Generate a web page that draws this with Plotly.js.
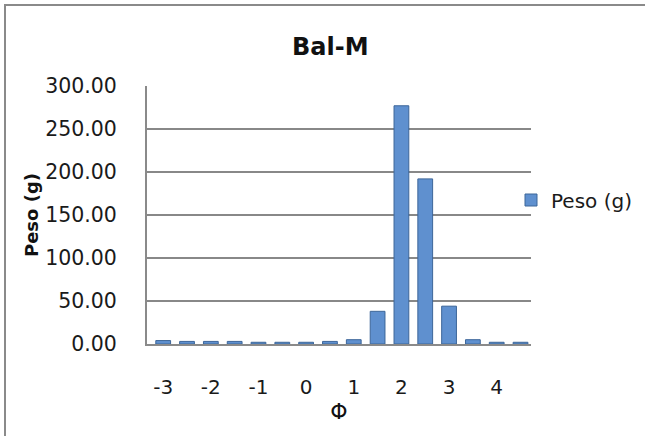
<!DOCTYPE html>
<html>
<head>
<meta charset="utf-8">
<script src="https://cdn.plot.ly/plotly-3.0.1.min.js"></script>
<style>html,body{margin:0;padding:0;background:#fff;}#chart{width:645px;height:436px;}</style>
</head>
<body>
<div id="chart"></div>
<script>
// Data
const phi = [-3, -2.5, -2, -1.5, -1, -0.5, 0, 0.5, 1, 1.5, 2, 2.5, 3, 3.5, 4, 4.5];
const peso = [4, 3, 3, 3, 2, 2, 2, 3, 5, 38, 277, 192, 44, 5, 2, 2];
const xTickVals = [-3, -2, -1, 0, 1, 2, 3, 4];
const xTickText = ['-3', '-2', '-1', '0', '1', '2', '3', '4'];
const yTickVals = [0, 50, 100, 150, 200, 250, 300];
const yTickText = ['0.00', '50.00', '100.00', '150.00', '200.00', '250.00', '300.00'];
const seriesName = 'Peso (g)';

const F = 'DejaVu Sans, sans-serif';
const trace = {
  type: 'bar',
  x: phi,
  y: peso,
  name: seriesName,
  width: 0.31,
  marker: {color: '#5F90CF', line: {color: '#3D6699', width: 1}},
  showlegend: true
};

// pixel -> paper helpers for the outer border / legend
const L = 147, R = 114, T = 86, B = 92, W = 645, H = 436;
const pw = W - L - R, ph = H - T - B;
const px = v => (v - L) / pw;
const py = v => (H - B - v) / ph;

const layout = {
  width: W, height: H,
  margin: {l: L, r: R, t: T, b: B, autoexpand: false},
  paper_bgcolor: '#ffffff',
  plot_bgcolor: '#ffffff',
  font: {family: F, color: '#1a1a1a', size: 20},
  title: {text: '<b>Bal-M</b>', x: 0.512, xanchor: 'center', y: 1 - 47/436, yanchor: 'middle',
          font: {family: F, size: 24, color: '#111'}},
  xaxis: {
    range: [-3.34, 4.72],
    tickvals: xTickVals, ticktext: xTickText,
    ticks: 'outside', ticklen: 24, tickcolor: 'rgba(0,0,0,0)',
    showgrid: false, zeroline: false,
    showline: true, linecolor: '#8a8a8a', linewidth: 2,
    tickfont: {family: F, size: 20, color: '#1a1a1a'},
    title: {text: 'Φ', standoff: 4, font: {family: F, size: 22, color: '#111'}}
  },
  yaxis: {
    range: [0, 300],
    tickvals: yTickVals, ticktext: yTickText,
    ticks: 'outside', ticklen: 24, tickcolor: 'rgba(0,0,0,0)',
    showgrid: true, gridcolor: '#888888', gridwidth: 1.6,
    zeroline: false,
    showline: true, linecolor: '#8a8a8a', linewidth: 2,
    tickfont: {family: F, size: 20.5, color: '#1a1a1a'},
    title: {text: '<b>Peso (g)</b>', standoff: 2, font: {family: F, size: 18, color: '#111'}}
  },
  legend: {
    x: px(511), xanchor: 'left', y: py(200), yanchor: 'middle',
    font: {family: F, size: 20, color: '#1a1a1a'},
    bgcolor: 'rgba(0,0,0,0)', itemwidth: 30
  },
  shapes: [
    {type: 'rect', xref: 'paper', yref: 'paper',
     x0: px(5), x1: px(700), y0: py(500), y1: py(5),
     line: {color: '#8a8a8a', width: 2}, fillcolor: 'rgba(0,0,0,0)', layer: 'below'}
  ]
};

Plotly.newPlot('chart', [trace], layout, {displayModeBar: false, staticPlot: true});
</script>
</body>
</html>
